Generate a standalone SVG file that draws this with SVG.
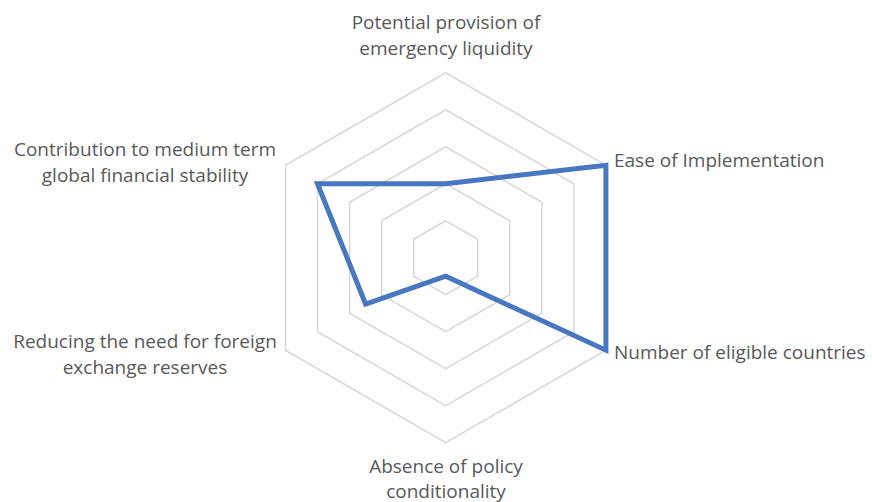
<svg xmlns="http://www.w3.org/2000/svg" width="872" height="502" viewBox="0 0 872 502">
<style>
.ring{fill:none;stroke:#d9d9d9;stroke-width:1.6}
.data{fill:none;stroke:#4677c0;stroke-width:5;stroke-linejoin:miter}
.lbl{font-family:"Open Sans","Liberation Sans",sans-serif;font-size:19px;fill:#595959}
.c{text-anchor:middle}
</style>
<rect width="872" height="502" fill="#ffffff"/>
<g id="grid">
<polygon class="ring" points="445.7,72.7 605.9,165.2 605.9,350.2 445.7,442.7 285.5,350.2 285.5,165.2"/>
<polygon class="ring" points="445.7,109.7 573.9,183.7 573.9,331.7 445.7,405.7 317.5,331.7 317.5,183.7"/>
<polygon class="ring" points="445.7,146.7 541.8,202.2 541.8,313.2 445.7,368.7 349.6,313.2 349.6,202.2"/>
<polygon class="ring" points="445.7,183.7 509.8,220.7 509.8,294.7 445.7,331.7 381.6,294.7 381.6,220.7"/>
<polygon class="ring" points="445.7,220.7 477.7,239.2 477.7,276.2 445.7,294.7 413.7,276.2 413.7,239.2"/>
</g>
<g id="connectors">
<polygon class="data" points="445.7,183.7 605.9,165.2 605.9,350.2 445.7,276.2 365.6,304 317.5,183.7"/>
</g>
<g id="label-top">
<text class="lbl c" x="446" y="29">Potential provision of</text>
<text class="lbl c" x="446" y="55">emergency liquidity</text>
</g>
<g id="label-ease">
<text class="lbl" x="614" y="167">Ease of Implementation</text>
</g>
<g id="label-number">
<text class="lbl" x="614" y="359">Number of eligible countries</text>
</g>
<g id="label-bottom">
<text class="lbl c" x="446" y="473">Absence of policy</text>
<text class="lbl c" x="446" y="498">conditionality</text>
</g>
<g id="label-reducing">
<text class="lbl c" x="145" y="348">Reducing the need for foreign</text>
<text class="lbl c" x="145" y="374">exchange reserves</text>
</g>
<g id="label-contribution">
<text class="lbl c" x="145" y="156">Contribution to medium term</text>
<text class="lbl c" x="145" y="182">global financial stability</text>
</g>
</svg>
